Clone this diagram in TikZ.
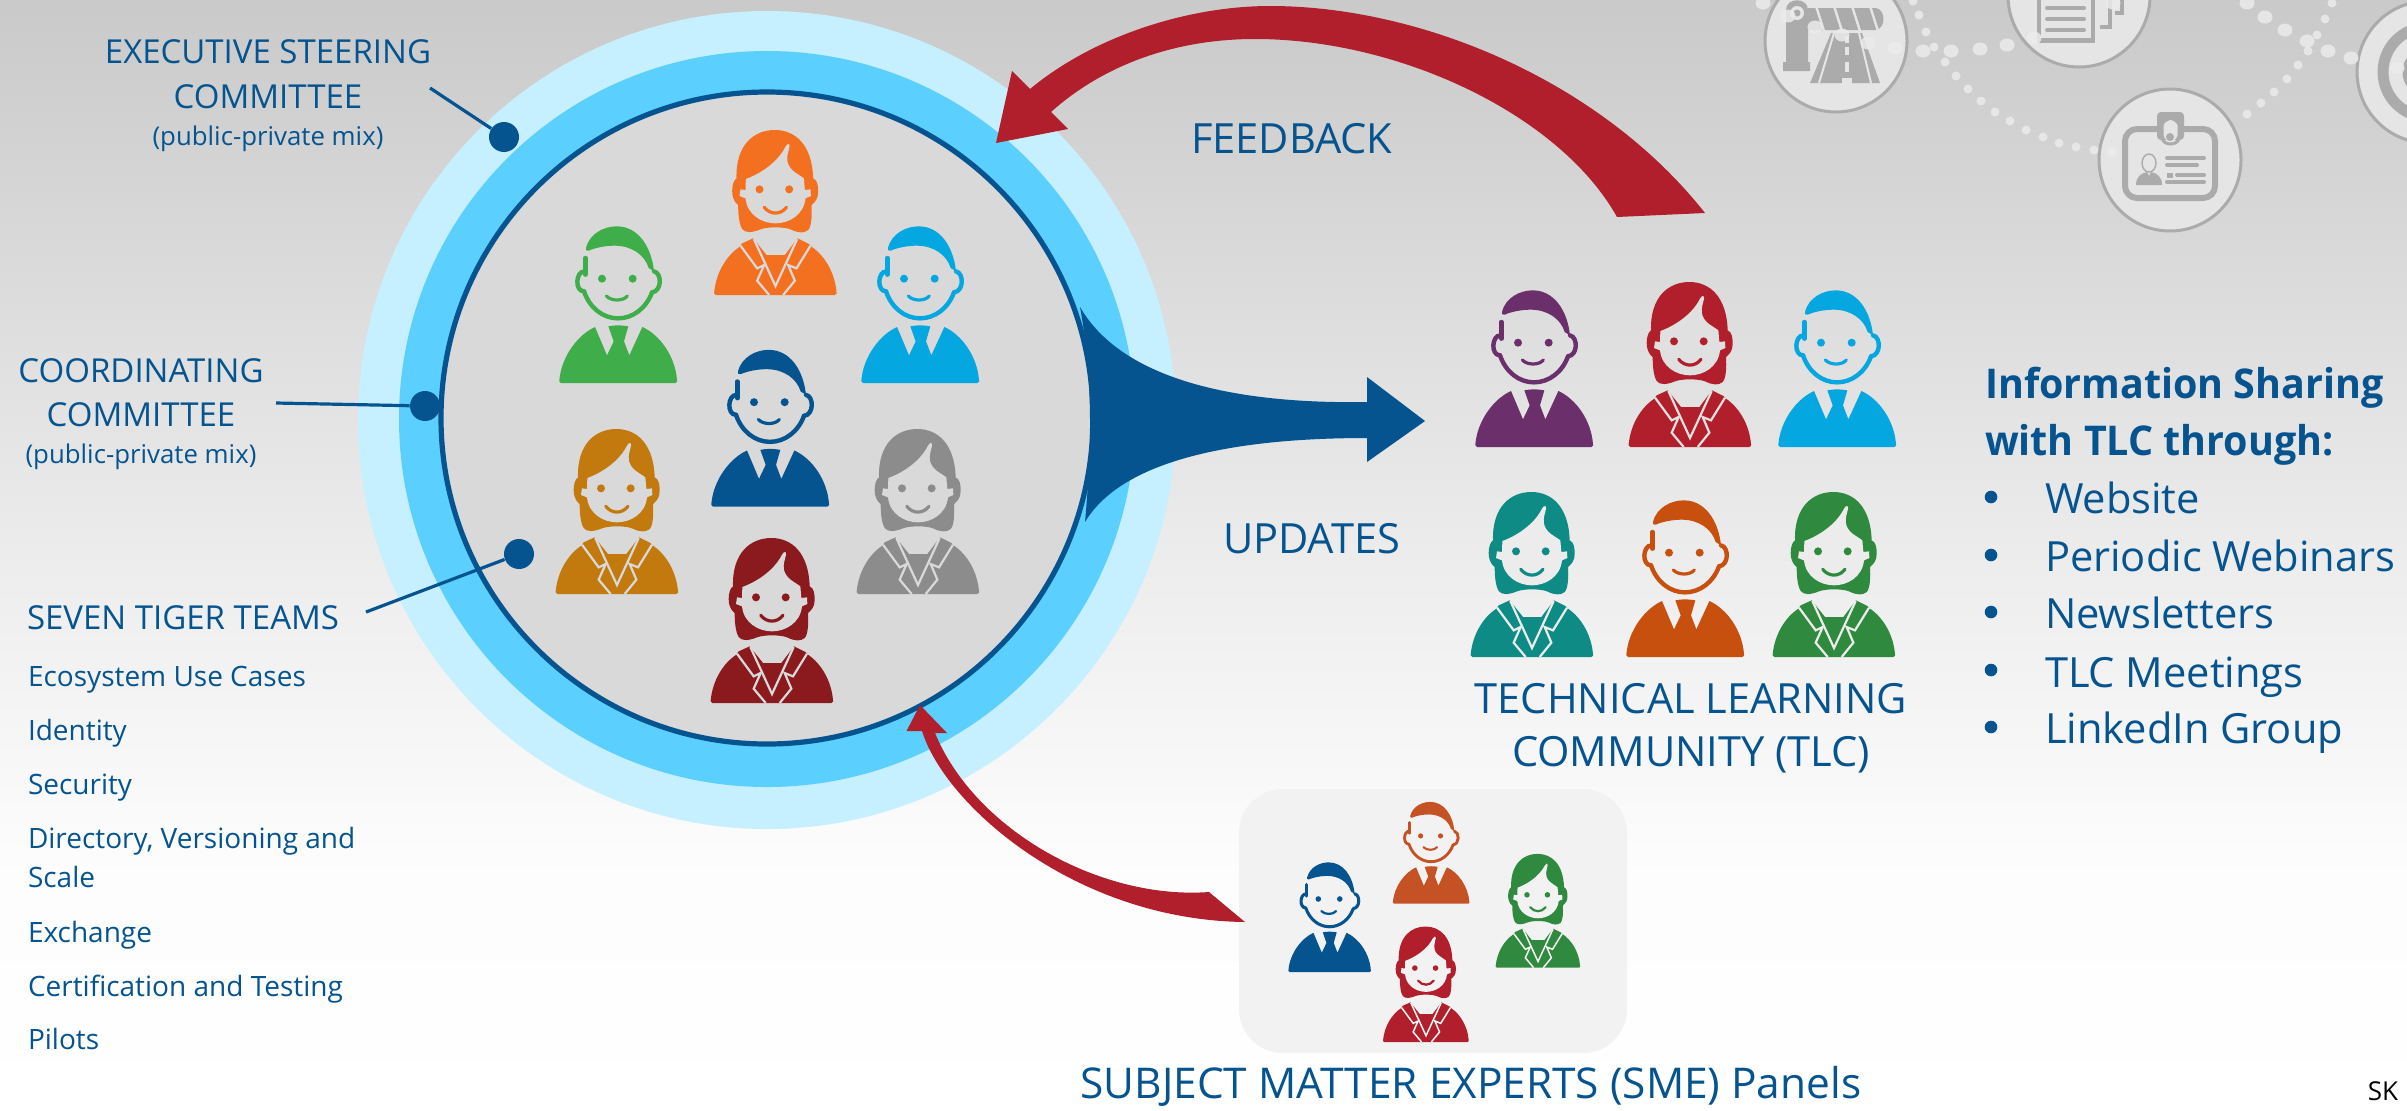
\documentclass[tikz,border=0pt]{standalone}
\usepackage{fontspec}
\setmainfont[BoldFeatures={FakeStretch=0.962}]{Open Sans}
\definecolor{tblue}{HTML}{05548F}
\definecolor{ringA}{HTML}{C6EFFF}
\definecolor{ringB}{HTML}{5BCFFE}
\definecolor{disc}{HTML}{D9D9D9}
\definecolor{arrred}{HTML}{B01F2B}
\definecolor{icongrey}{HTML}{ABABAB}
\definecolor{iconfill}{HTML}{E5E5E5}
\definecolor{dotc}{HTML}{EBEBEB}
\definecolor{pGreen}{HTML}{3FAE4A}
\definecolor{pOrange}{HTML}{F47021}
\definecolor{pCyan}{HTML}{05A7E0}
\definecolor{pOchre}{HTML}{C27A0E}
\definecolor{pGrey}{HTML}{8C8C8C}
\definecolor{pDark}{HTML}{8B1A1F}
\definecolor{pPurple}{HTML}{6B2F6B}
\definecolor{pTeal}{HTML}{0F8B85}
\definecolor{pRust}{HTML}{C8500F}
\definecolor{pForest}{HTML}{2F8A3F}
\definecolor{pBrick}{HTML}{C45225}
\definecolor{bgA}{HTML}{E0E0E0}
\definecolor{bgB}{HTML}{ECECEC}
\definecolor{panel}{HTML}{F2F2F2}
\tikzset{
 txt/.style={text=tblue,inner sep=0pt,outer sep=0pt,align=center},
 big/.style={txt,font=\fontsize{20.8}{24}\selectfont},
 med/.style={txt,font=\fontsize{16.5}{20}\selectfont},
 sml/.style={txt,font=\fontsize{12.9}{15}\selectfont},
 lst/.style={txt,font=\fontsize{14}{17}\selectfont},
 dotnode/.style={circle,fill=tblue,inner sep=0pt,minimum size=15pt},
 leader/.style={draw=tblue,line width=1.6pt},
 pics/man/.style n args={3}{code={
  \begin{scope}[scale=#3/3]
  \fill[#1] (-176,-8) .. controls (-170,-80) and (-120,-145) .. (-69,-168) -- (-33,-83) -- (-13,-125) -- (-29,-170) .. controls (-10,-174) and (10,-174) .. (31,-170) -- (18,-125) -- (34,-83) -- (73,-168) .. controls (125,-145) and (172,-80) .. (177,-8) -- (177,-4) .. controls (177,-1) and (175,0) .. (172,0) -- (-171,0) .. controls (-174,0) and (-176,-2) .. (-176,-5) -- cycle;
  \fill[#1] (-96,-405) .. controls (-85,-450) and (-40,-470) .. (-4,-470) .. controls (60,-470) and (100,-410) .. (108,-335) -- (92,-345) .. controls (80,-385) and (40,-412) .. (-10,-412) .. controls (-40,-412) and (-70,-405) .. (-88,-397) .. controls (-95,-395) and (-98,-400) .. (-96,-405) -- cycle;
  \draw[#1,line cap=round,line width=#3*2.2pt] (-98,-375) -- (-98,-325);
  \draw[#1,line cap=round,line width=#3*2.2pt] (-100,-335) .. controls (-128,-335) and (-130,-275) .. (-102,-275);
  \draw[#1,line cap=round,line width=#3*2.2pt] (108,-335) .. controls (132,-330) and (132,-275) .. (102,-272);
  \draw[#1,line cap=round,line width=#3*2.2pt] (-102,-275) .. controls (-85,-225) and (-45,-194) .. (0,-194) .. controls (45,-194) and (85,-225) .. (102,-272);
  \fill[#1] (-48,-313) circle (12) (44,-313) circle (12);
  \draw[#1,line cap=round,line width=#3*1.6pt] (-35,-261) .. controls (-20,-245) and (15,-245) .. (28,-261);
  \end{scope}}},
 pics/woman/.style n args={3}{code={
  \begin{scope}[scale=#3/3]
  \fill[#1] (-184,-8) .. controls (-178,-70) and (-145,-120) .. (-107,-145) -- (-100,-155) -- (-67,-170) -- (-27,-120) -- (28,-120) -- (66,-170) -- (100,-153) -- (108,-145) .. controls (145,-120) and (178,-70) .. (183,-8) -- (183,-4) .. controls (183,-1) and (181,0) .. (178,0) -- (-179,0) .. controls (-182,0) and (-184,-2) .. (-184,-5) -- cycle;
  \draw[#2,line width=#3*1.1pt,line join=miter] (-105,-148) -- (-55,-80) -- (-34,-90) -- (-55,-43) -- (-19,0);
  \draw[#2,line width=#3*1.1pt,line join=miter] (105,-148) -- (63,-80) -- (38,-90) -- (58,-43) -- (23,0);
  \draw[#2,line width=#3*1.1pt,line join=miter] (-65,-168) -- (0,-27) -- (65,-168);
  \fill[#1] (-2,-495) .. controls (60,-495) and (110,-450) .. (113,-350) .. controls (125,-345) and (128,-330) .. (128,-310) .. controls (128,-290) and (120,-280) .. (108,-270) .. controls (110,-240) and (108,-205) .. (98,-195) .. controls (85,-185) and (70,-185) .. (45,-197) .. controls (25,-205) and (-25,-205) .. (-45,-197) .. controls (-70,-187) and (-90,-185) .. (-100,-198) .. controls (-110,-215) and (-112,-245) .. (-112,-270) .. controls (-125,-280) and (-130,-295) .. (-130,-312) .. controls (-130,-330) and (-125,-345) .. (-117,-350) .. controls (-120,-450) and (-65,-495) .. (-2,-495) -- cycle;
  \fill[#2] (-89,-348) .. controls (-50,-362) and (5,-395) .. (30,-445) .. controls (35,-455) and (44,-456) .. (42,-445) .. controls (38,-425) and (25,-400) .. (50,-375) .. controls (60,-365) and (75,-358) .. (85,-350) -- (88,-315) -- (105,-317) -- (106,-297) -- (90,-290) .. controls (85,-240) and (40,-215) .. (0,-215) .. controls (-40,-215) and (-85,-240) .. (-90,-290) -- (-108,-297) -- (-105,-317) -- (-90,-315) -- cycle;
  \fill[#1] (-48,-317) circle (12) (41,-317) circle (12);
  \draw[#1,line cap=round,line width=#3*1.6pt] (-34,-263) .. controls (-15,-240) and (15,-240) .. (33,-263);
  \end{scope}}}
}
\begin{document}
\begin{tikzpicture}[x=0.5pt,y=-0.5pt]
\useasboundingbox (0,0) rectangle (2407,1110);
% background
\shade[top color=black!21,bottom color=black!7] (0,0) rectangle (2407,570.5);
\shade[top color=black!7,bottom color=black!1] (0,570) rectangle (2407,860.5);
\shade[top color=black!1,bottom color=white] (0,860) rectangle (2407,1110);
% decorative top right
\fill[iconfill,draw=icongrey,line width=1.5pt] (1836,41) circle (71) (2079,-4) circle (71) (2170,160) circle (71) (2428,72) circle (71);
% barrier
\fill[icongrey] (1786,10) .. controls (1786,-3) and (1808,-3) .. (1808,10) -- (1808,62) -- (1810,62) -- (1810,71) -- (1783,71) -- (1783,62) -- (1786,62) -- cycle;
\fill[iconfill] (1797,13) circle (7);
\fill[icongrey] (1797,13) circle (3.5);
\fill[icongrey] (1808,8) -- (1876,8) .. controls (1886,10) and (1886,28) .. (1876,30) -- (1808,30) -- cycle;
\foreach \i in {0,1,2,3} \draw[iconfill,line width=1.2pt] (1816+\i*18,6) -- (1824+\i*18,31);
\fill[icongrey] (1831,33) -- (1862,33) -- (1880,83) -- (1810,83) -- cycle;
\draw[iconfill,line width=1pt] (1834,33) -- (1819,83) (1859,33) -- (1871,83);
\foreach \i/\l in {36/7,47/8,62/10} \fill[iconfill] (1845,\i) rectangle (1849,\i+\l);
\fill[iconfill] (1842,78) rectangle (1852,84);
% document
\fill[icongrey] (2037,-5) rectangle (2095,43);
\fill[iconfill] (2041,-5) rectangle (2091,38);
\foreach \i in {8,19,30} \draw[icongrey,line width=2pt,line cap=round] (2047,\i) -- (2084,\i);
\draw[icongrey,line width=2pt] (2110,0) -- (2110,27) -- (2100,27);
\draw[icongrey,line width=2pt] (2122,0) -- (2122,13) -- (2115,13);
% badge
\draw[icongrey,line width=3pt,rounded corners=6pt] (2125,129) rectangle (2215,198);
\fill[icongrey,rounded corners=2pt] (2157,112) rectangle (2184,140);
\fill[icongrey] (2157,125) rectangle (2184,133);
\fill[iconfill,rounded corners=5pt] (2162,120) -- (2179,120) -- (2179,140) -- (2170,143) -- (2162,140) -- cycle;
\draw[icongrey,line width=1.5pt] (2162,120) -- (2162,138) .. controls (2163,146) and (2178,146) .. (2179,138) -- (2179,120);
\fill[icongrey] (2170,137) circle (4);
\draw[icongrey,line width=0.7pt] (2149,163) ellipse (7 and 9);
\fill[icongrey] (2136,185) .. controls (2136,176) and (2142,173) .. (2147,172) -- (2149,176) -- (2151,172) .. controls (2156,173) and (2162,176) .. (2162,185) -- cycle;
\foreach \a/\b/\c in {2167/2204/158,2167/2197/165,2177/2204/175,2167/2204/182} \draw[icongrey,line width=2pt,line cap=round] (\a,\c) -- (\b,\c);
\fill[icongrey] (2167,172.5) rectangle (2173,177.5);
% target
\draw[icongrey,line width=5.5pt] (2428,72) circle (45);
\draw[icongrey,line width=5.5pt] (2428,72) circle (20);
% dots
\foreach \a/\b in {1763/3,1788/16,1815/27,1842/35,1868/43,1895/48,1923/51,1951/51,1980/49,2007/45,2034/38,2113/3,2247/3,2265/17,2285/30,2307/41,2328/51,2351/58,2397/68}
  \fill[dotc,opacity=.85] (\a,\b) ellipse (7.5 and 6.5);
\foreach \a/\b in {1913/1,1919/15,1926/32,1934/47,1945/62,1956/76,1968/89,1981/101,1995/112,2010/121,2026/130,2043/137,2059/143,2076/147,2094/150,2112/152,2247/114,2261/103,2274/92,2287/79,2298/65,2308/51,2317/35,2325/19,2332/3}
  \fill[dotc,opacity=.85] (\a,\b) ellipse (4.5 and 4.5);
% circle
\fill[ringA] (767,420) circle (409);
\fill[ringB] (767,419) circle (368);
\fill[disc,draw=tblue,line width=2.6pt] (767,418) circle (326);
% panel
\fill[panel,rounded corners=22pt] (1239,789) rectangle (1627,1053);
% arrows
\fill[tblue] (1367,462) -- (1425,421) -- (1367,377) -- (1367,402) .. controls (1250,404) and (1125,385) .. (1080,307) .. controls (1086,340) and (1090,380) .. (1090,423) .. controls (1090,455) and (1088,490) .. (1085,522) .. controls (1125,455) and (1250,438) .. (1367,438) -- cycle;
\fill[arrred] (996,143) -- (1012,71) -- (1030,89) .. controls (1095,35) and (1190,6) .. (1270,6) .. controls (1420,6) and (1600,80) .. (1705,213) -- (1617,217) .. controls (1560,115) and (1400,39) .. (1255,39) .. controls (1170,39) and (1100,68) .. (1051,112) -- (1068,129) -- cycle;
\fill[arrred] (920,705) -- (906.5,731) -- (922,731) .. controls (945,805) and (1075,920) .. (1245,922) -- (1209,892) .. controls (1100,900) and (975,830) .. (935,733) -- (947,733) -- cycle;
% leaders and labels
\node[med,anchor=base] (exec1) at (268,63) {EXECUTIVE STEERING};
\node[med,anchor=base] (exec2) at (268,108) {COMMITTEE};
\node[sml,anchor=base] (exec3) at (268,145) {(public-private mix)};
\node[dotnode] (dotA) at (504,137) {};
\coordinate (la) at (430,88);
\draw[leader] (la) -- (dotA);
\node[med,anchor=base] (co1) at (141,382) {COORDINATING};
\node[med,anchor=base] (co2) at (141,426) {COMMITTEE};
\node[sml,anchor=base] (co3) at (141,463) {(public-private mix)};
\node[dotnode] (dotB) at (425,406) {};
\coordinate (lb) at (276,403);
\draw[leader] (lb) -- (dotB);
\node[med,anchor=base west] (tt) at (27,629) {SEVEN TIGER TEAMS};
\node[dotnode] (dotC) at (519,554) {};
\coordinate (lc) at (366,612);
\draw[leader] (lc) -- (dotC);
\node[lst,anchor=base west] (t1) at (28,686) {Ecosystem Use Cases};
\node[lst,anchor=base west] (t2) at (28,740) {Identity};
\node[lst,anchor=base west] (t3) at (28,794) {Security};
\node[lst,anchor=base west] (t4) at (28,848) {Directory, Versioning and};
\node[lst,anchor=base west] (t5) at (28,887) {Scale};
\node[lst,anchor=base west] (t6) at (28,942) {Exchange};
\node[lst,anchor=base west] (t7) at (28,996) {Certification and Testing};
\node[lst,anchor=base west] (t8) at (28,1049) {Pilots};
\node[big,anchor=base west] (fb) at (1191,153) {FEEDBACK};
\node[big,anchor=base west] (up) at (1223,553) {UPDATES};
\node[big,anchor=base] (tlc1) at (1691,713) {TECHNICAL LEARNING};
\node[big,anchor=base] (tlc2) at (1691,766) {COMMUNITY (TLC)};
\node[big,anchor=base,font=\fontsize{21.2}{24}\selectfont] (sme) at (1471,1098) {SUBJECT MATTER EXPERTS (SME) Panels};
\node[big,anchor=base west,font=\fontsize{20.5}{24}\selectfont\bfseries] (is1) at (1985,398) {Information Sharing};
\node[big,anchor=base west,font=\fontsize{20.5}{24}\selectfont\bfseries] (is2) at (1985,455) {with TLC through:};
\foreach \n/\by/\ty/\t in {a/497/513/Website,b/555/571/Periodic Webinars,c/612/628/Newsletters,d/670/687/TLC Meetings,e/727/743/LinkedIn Group}{
  \fill[tblue] (1991,\by) circle (6.3);
  \node[big,anchor=base west] (li\n) at (2045,\ty) {\t};
}
\node[anchor=base,text=black,inner sep=0pt,font=\fontsize{13}{15}\selectfont] (sk) at (2383,1100) {SK};
% people in the disc
\path pic at (775.5,295) {woman={pOrange}{disc}{1}};
\path pic at (618,383) {man={pGreen}{disc}{1}};
\path pic at (920,383) {man={pCyan}{disc}{1}};
\path pic at (770,506.5) {man={tblue}{disc}{1}};
\path pic at (617,594) {woman={pOchre}{disc}{1}};
\path pic at (918,594) {woman={pGrey}{disc}{1}};
\path pic at (772,703) {woman={pDark}{disc}{1}};
% TLC
\path pic at (1534,447) {man={pPurple}{bgA}{1}};
\path pic at (1690,447) {woman={arrred}{bgA}{1}};
\path pic at (1837,447) {man={pCyan}{bgA}{1}};
\path pic at (1532,657) {woman={pTeal}{bgB}{1}};
\path pic at (1685,657) {man={pRust}{bgB}{1}};
\path pic at (1834,657) {woman={pForest}{bgB}{1}};
% SME
\path pic at (1329.5,972) {man={tblue}{panel}{0.7}};
\path pic at (1431,903.7) {man={pBrick}{panel}{0.65}};
\path pic at (1538,967.7) {woman={pForest}{panel}{0.69}};
\path pic at (1426,1042) {woman={arrred}{panel}{0.7}};
\end{tikzpicture}
\end{document}
